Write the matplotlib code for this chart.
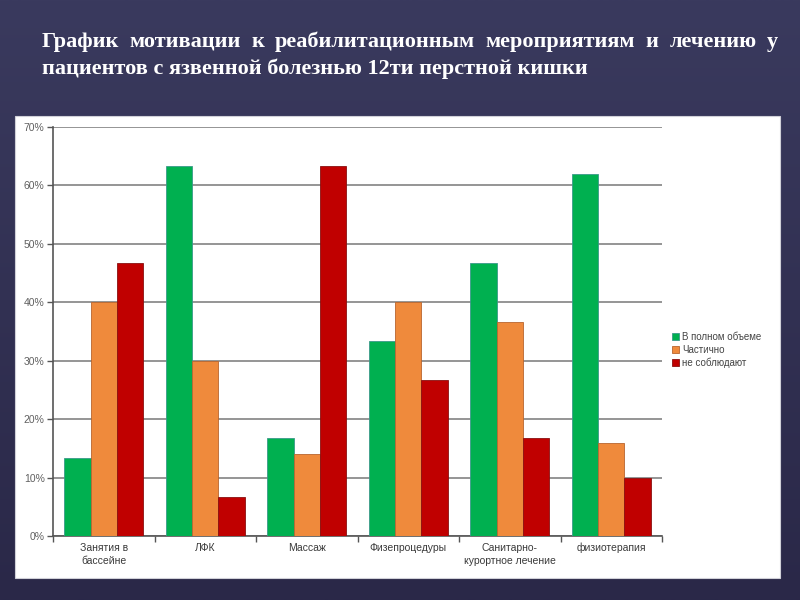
import matplotlib.pyplot as plt
import numpy as np
from matplotlib.patches import Rectangle
from matplotlib.colors import LinearSegmentedColormap

categories = ["Занятия в\nбассейне", "ЛФК", "Массаж", "Физепроцедуры",
              "Санитарно-\nкурортное лечение", "физиотерапия"]
series_names = ["В полном объеме", "Частично", "не соблюдают"]
full = [13.3, 63.3, 16.7, 33.3, 46.7, 62.0]
partial = [40.0, 30.0, 14.0, 40.0, 36.7, 16.0]
none_ = [46.7, 6.7, 63.3, 26.7, 16.7, 10.0]
yticks = [0, 10, 20, 30, 40, 50, 60, 70]

title1 = "График мотивации к реабилитационным мероприятиям и лечению у"
title2 = "пациентов с язвенной болезнью 12ти перстной кишки"

colors = ["#00b050", "#ef8a3c", "#c00000"]
edges = ["#3a9a8a", "#b8652e", "#8a1010"]

fig = plt.figure(figsize=(8, 6), dpi=100)

# slide background with a soft vertical gradient
bg = fig.add_axes([0, 0, 1, 1], zorder=-10)
grad = np.linspace(0, 1, 256).reshape(-1, 1)
cmap = LinearSegmentedColormap.from_list("bg", ["#3a3a5e", "#2a2848"])
bg.imshow(grad, aspect="auto", cmap=cmap, extent=[0, 1, 0, 1])
bg.set_axis_off()

# white chart panel
fig.patches.append(Rectangle((15 / 800, 1 - 578 / 600), 765 / 800, 462 / 600,
                             transform=fig.transFigure, facecolor="white",
                             edgecolor="#d0d0d8", lw=0.8, zorder=-5))

ax = fig.add_axes([53 / 800, 1 - 536 / 600, 609 / 800, 409 / 600])
ax.set_facecolor("none")

x = np.arange(len(categories)) + 0.5
w = 0.26
for i, vals in enumerate([full, partial, none_]):
    ax.bar(x + (i - 1) * w, vals, w, color=colors[i], edgecolor=edges[i],
           linewidth=0.6, label=series_names[i], zorder=3)

ax.set_xlim(0, 6)
ax.set_ylim(0, 70)
ax.set_yticks(yticks)
ax.set_yticklabels(["%d%%" % v for v in yticks], fontsize=7.5, color="#606060",
                   family="Liberation Sans")
ax.set_xticks(x)
ax.set_xticklabels(categories, fontsize=7.5, color="#3a3a3a",
                   family="Liberation Sans", linespacing=1.35)
ax.set_xticks(np.arange(0, 7), minor=True)
ax.tick_params(axis="x", which="major", length=0, pad=5)
ax.tick_params(axis="x", which="minor", length=4, color="#555555", width=1)
ax.tick_params(axis="y", length=4, color="#555555", width=1, pad=2)
ax.yaxis.grid(True, color="#8c8c8c", linewidth=1.3, zorder=0)
ax.set_axisbelow(True)
for s in ["top", "right"]:
    ax.spines[s].set_visible(False)
ax.spines["left"].set_color("#555555")
ax.spines["bottom"].set_color("#555555")
ax.spines["left"].set_linewidth(1.2)
ax.spines["bottom"].set_linewidth(1.2)

leg = fig.legend(loc="upper left", bbox_to_anchor=(667 / 800, 1 - 327 / 600),
                 frameon=False, handlelength=0.7, handleheight=0.7,
                 handletextpad=0.35, labelspacing=0.3, borderpad=0,
                 prop={"family": "Liberation Sans", "size": 7})
for t in leg.get_texts():
    t.set_color("#444444")

# title: first line justified across the width, second line left aligned
left_px, right_px = 42, 778
tprops = dict(fontsize=16, fontweight="bold", family="Liberation Serif",
              color="white", va="baseline")
renderer = fig.canvas.get_renderer()
words = title1.split(" ")
texts = [fig.text(0, 1 - 47 / 600, wd, **tprops) for wd in words]
widths = [t.get_window_extent(renderer).width for t in texts]
gap = (right_px - left_px - sum(widths)) / (len(words) - 1)
pos = left_px
for t, wd in zip(texts, widths):
    t.set_x(pos / 800)
    pos += wd + gap
fig.text(left_px / 800, 1 - 74 / 600, title2, **tprops)

fig.savefig("out.png", dpi=100)
